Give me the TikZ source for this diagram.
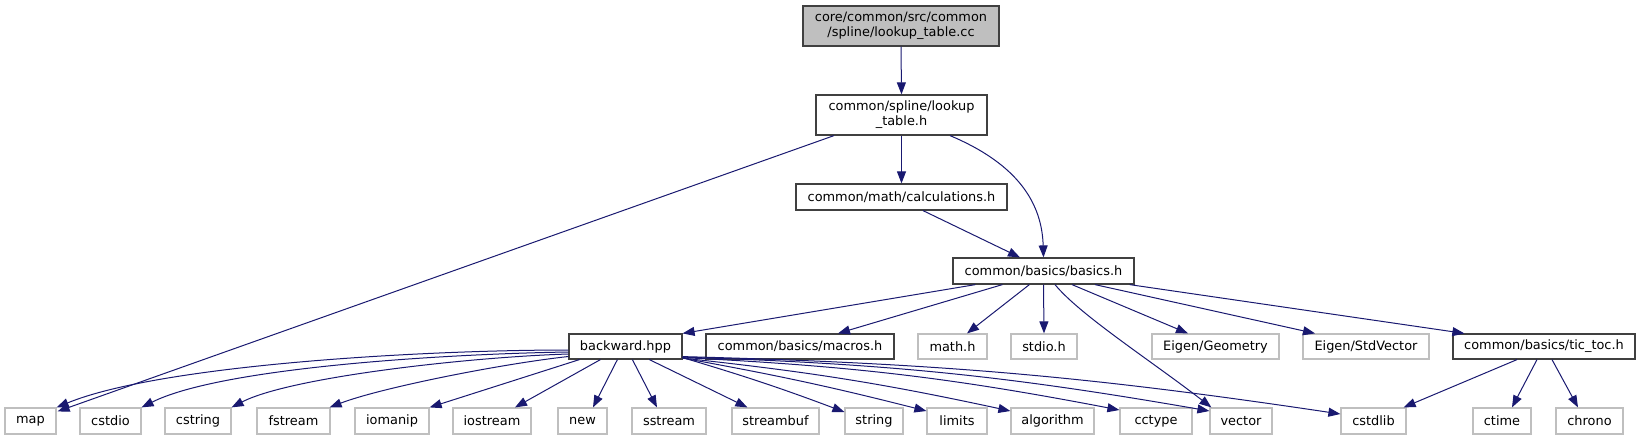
\documentclass[tikz,border=0pt]{standalone}
\usepackage{fontspec}
\setmainfont{DejaVu Sans}
\usetikzlibrary{arrows.meta,calc}
\definecolor{edgec}{HTML}{191970}
\definecolor{dkb}{HTML}{404040}
\definecolor{ltb}{HTML}{BFBFBF}
\definecolor{rootfill}{HTML}{BFBFBF}
\tikzset{
  nbox/.style={draw=dkb, line width=1.2pt, fill=white, inner sep=0pt, minimum height=26pt,
    font=\fontsize{12.9}{15}\selectfont, align=center},
  gbox/.style={nbox, draw=ltb},
  dep/.style={draw=edgec, line width=1pt, -{Triangle[length=12pt,width=9pt]}, fill=none},
}
\begin{document}
\begin{tikzpicture}[x=1pt,y=-1pt]
\useasboundingbox (0,0) rectangle (1642,440);
% top chain
\node[nbox, fill=rootfill, minimum width=196pt, minimum height=40pt] (root) at (901,26) {core/common/src/common\\/spline/lookup\_table.cc};
\node[nbox, minimum width=171pt, minimum height=40pt] (lookup) at (901.5,115) {common/spline/lookup\\\_table.h};
\node[nbox, minimum width=211pt] (calc) at (901.5,197) {common/math/calculations.h};
\node[nbox, minimum width=181pt] (basics) at (1043.5,271) {common/basics/basics.h};
% row 4
\node[nbox, minimum width=113pt, minimum height=25pt] (backward) at (625.5,346.5) {backward.hpp};
\node[nbox, minimum width=188pt, minimum height=25pt] (macros) at (800,346.5) {common/basics/macros.h};
\node[gbox, minimum width=69pt, minimum height=25pt] (mathh) at (952.5,346.5) {math.h};
\node[gbox, minimum width=66pt, minimum height=25pt] (stdio) at (1044,346.5) {stdio.h};
\node[gbox, minimum width=127pt, minimum height=25pt] (geometry) at (1215.5,346.5) {Eigen/Geometry};
\node[gbox, minimum width=126pt, minimum height=25pt] (stdvector) at (1366,346.5) {Eigen/StdVector};
\node[nbox, minimum width=182pt, minimum height=25pt] (tictoc) at (1544,346.5) {common/basics/tic\_toc.h};
% row 5
\node[gbox, minimum width=51pt] (map) at (30.5,421) {map};
\node[gbox, minimum width=61pt] (cstdio) at (110.5,421) {cstdio};
\node[gbox, minimum width=66pt] (cstring) at (198,421) {cstring};
\node[gbox, minimum width=73pt] (fstream) at (293.5,421) {fstream};
\node[gbox, minimum width=74pt] (iomanip) at (392,421) {iomanip};
\node[gbox, minimum width=78pt] (iostream) at (492,421) {iostream};
\node[gbox, minimum width=49pt] (new) at (582.5,421) {new};
\node[gbox, minimum width=74pt] (sstream) at (669,421) {sstream};
\node[gbox, minimum width=87pt] (streambuf) at (775.5,421) {streambuf};
\node[gbox, minimum width=58pt] (string) at (874,421) {string};
\node[gbox, minimum width=60pt] (limits) at (957,421) {limits};
\node[gbox, minimum width=83pt] (algorithm) at (1052.5,421) {algorithm};
\node[gbox, minimum width=72pt] (cctype) at (1156,421) {cctype};
\node[gbox, minimum width=62pt] (vector) at (1241,421) {vector};
\node[gbox, minimum width=65pt] (cstdlib) at (1373.5,421) {cstdlib};
\node[gbox, minimum width=58pt] (ctime) at (1502,421) {ctime};
\node[gbox, minimum width=67pt] (chrono) at (1589.5,421) {chrono};
% edges: top
\draw[dep] (root.south) -- (lookup.north);
\draw[dep] (lookup.south) -- (calc.north);
\draw[dep] ($(lookup.south)+(48.5,0)$) .. controls (1020,165) and (1042,205) .. (basics.north);
\draw[dep] ($(lookup.south)+(-67.5,0)$) -- ($(map.north east)+(1,4)$);
\draw[dep] ($(calc.south)+(21.5,0)$) -- ($(basics.north)+(-23.5,0)$);
% edges: basics
\draw[dep] ($(basics.south west)+(23,0)$) -- (backward.north east);
\draw[dep] ($(basics.south west)+(50,0)$) -- ($(macros.north)+(38,0)$);
\draw[dep] ($(basics.south west)+(77,0)$) -- ($(mathh.north)+(14.5,0)$);
\draw[dep] (basics.south) -- (stdio.north);
\draw[dep] ($(basics.south)+(11.5,0)$) .. controls (1080,315) and (1150,360) .. ($(vector.north west)+(2,0)$);
\draw[dep] ($(basics.south)+(28.5,0)$) -- ($(geometry.north)+(-27.5,0)$);
\draw[dep] ($(basics.south)+(51.5,0)$) -- ($(stdvector.north)+(-51,0)$);
\draw[dep] ($(basics.south east)+(-5,0)$) -- ($(tictoc.north west)+(12,0)$);
% edges: tic_toc
\draw[dep] ($(tictoc.south)+(-27,0)$) -- ($(cstdlib.north east)+(-3,0)$);
\draw[dep] ($(tictoc.south)+(-7,0)$) -- ($(ctime.north)+(10,0)$);
\draw[dep] ($(tictoc.south)+(8,0)$) -- ($(chrono.north)+(-11.5,0)$);
% edges: backward, left side
\draw[dep] ($(backward.west)+(0,3.5)$) .. controls (420,350) and (160,365) .. (map.north east);
\draw[dep] ($(backward.west)+(0,5.5)$) .. controls (440,354) and (220,368) .. (cstdio.north east);
\draw[dep] ($(backward.west)+(0,7.5)$) .. controls (470,357) and (290,377) .. (cstring.north east);
\draw[dep] ($(backward.west)+(0,10)$) .. controls (500,364) and (380,388) .. ($(fstream.north east)+(-1,0)$);
\draw[dep] ($(backward.south west)+(11,0)$) -- (iomanip.north east);
\draw[dep] ($(backward.south west)+(32,0)$) -- ($(iostream.north)+(23,0)$);
\draw[dep] ($(backward.south west)+(49,0)$) -- ($(new.north)+(10.5,0)$);
\draw[dep] ($(backward.south west)+(64,0)$) -- ($(sstream.north)+(-12,0)$);
\draw[dep] ($(backward.south west)+(81,0)$) -- ($(streambuf.north west)+(16,0)$);
% edges: backward, right side
\draw[dep] ($(backward.south east)+(0,-2)$) to[bend left=2] ($(string.west)+(0,-9)$);
\draw[dep] ($(backward.south east)+(0,-1.5)$) to[bend left=2] ($(limits.west)+(0,-10)$);
\draw[dep] ($(backward.south east)+(0,-1.5)$) to[bend left=3] ($(algorithm.west)+(0,-10)$);
\draw[dep] ($(backward.south east)+(0,-2)$) to[bend left=4] ($(cctype.west)+(0,-11)$);
\draw[dep] ($(backward.south east)+(0,-2.5)$) to[bend left=4] ($(vector.west)+(0,-10)$);
\draw[dep] ($(backward.south east)+(0,-3)$) to[bend left=3.5] ($(cstdlib.west)+(0,-7)$);
\end{tikzpicture}
\end{document}
